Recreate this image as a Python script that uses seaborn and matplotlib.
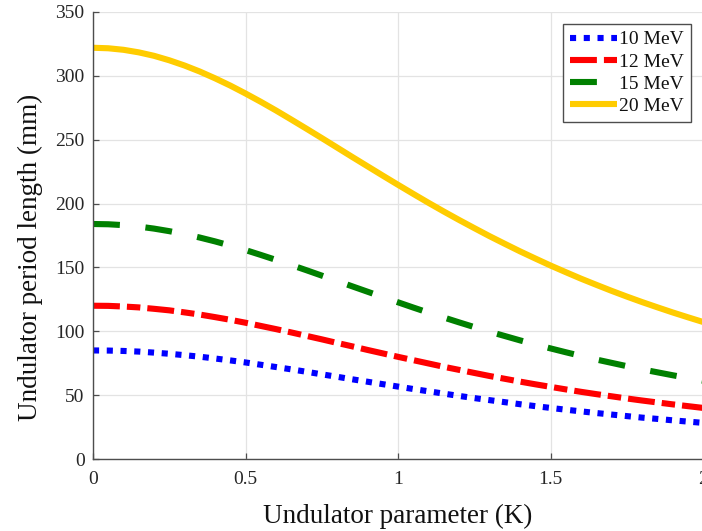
import numpy as np
import pandas as pd
import matplotlib
matplotlib.use("Agg")
import matplotlib.pyplot as plt
import seaborn as sns

# Undulator parameter K
k_values = [0.00, 0.05, 0.10, 0.15, 0.20, 0.25, 0.30, 0.35, 0.40, 0.45, 0.50,
            0.55, 0.60, 0.65, 0.70, 0.75, 0.80, 0.85, 0.90, 0.95, 1.00,
            1.05, 1.10, 1.15, 1.20, 1.25, 1.30, 1.35, 1.40, 1.45, 1.50,
            1.55, 1.60, 1.65, 1.70, 1.75, 1.80, 1.85, 1.90, 1.95, 2.00]

# Undulator period length (mm) for each beam energy
period_10mev = [85.0, 84.9, 84.6, 84.1, 83.3, 82.4, 81.3, 80.1, 78.7, 77.2, 75.6,
                73.8, 72.0, 70.2, 68.3, 66.3, 64.4, 62.4, 60.5, 58.6, 56.7,
                54.8, 53.0, 51.2, 49.4, 47.7, 46.1, 44.5, 42.9, 41.4, 40.0,
                38.6, 37.3, 36.0, 34.8, 33.6, 32.4, 31.4, 30.3, 29.3, 28.3]
period_12mev = [120.0, 119.9, 119.4, 118.7, 117.6, 116.4, 114.8, 113.1, 111.1, 109.0, 106.7,
                104.2, 101.7, 99.1, 96.4, 93.7, 90.9, 88.2, 85.4, 82.7, 80.0,
                77.4, 74.8, 72.2, 69.8, 67.4, 65.0, 62.8, 60.6, 58.5, 56.5,
                54.5, 52.6, 50.8, 49.1, 47.4, 45.8, 44.3, 42.8, 41.4, 40.0]
period_15mev = [184.0, 183.8, 183.1, 182.0, 180.4, 178.4, 176.1, 173.4, 170.4, 167.1, 163.6,
                159.8, 155.9, 151.9, 147.8, 143.6, 139.4, 135.2, 131.0, 126.8, 122.7,
                118.6, 114.6, 110.8, 107.0, 103.3, 99.7, 96.3, 92.9, 89.7, 86.6,
                83.6, 80.7, 77.9, 75.3, 72.7, 70.2, 67.9, 65.6, 63.4, 61.3]
period_20mev = [322.0, 321.6, 320.4, 318.4, 315.7, 312.2, 308.1, 303.4, 298.1, 292.4, 286.2,
                279.7, 272.9, 265.8, 258.6, 251.3, 243.9, 236.5, 229.2, 221.9, 214.7,
                207.6, 200.6, 193.8, 187.2, 180.8, 174.5, 168.5, 162.6, 157.0, 151.5,
                146.3, 141.2, 136.4, 131.7, 127.2, 122.9, 118.8, 114.8, 111.0, 107.3]

energy_labels = ["10 MeV", "12 MeV", "15 MeV", "20 MeV"]
x_tick_values = [0, 0.5, 1, 1.5, 2]
x_tick_labels = ["0", "0.5", "1", "1.5", "2"]
y_tick_values = [0, 50, 100, 150, 200, 250, 300, 350]

sns.set_theme(style="whitegrid")
plt.rcParams["font.family"] = ["Liberation Serif", "DejaVu Serif"]

fig = plt.figure(figsize=(7.02, 5.31), dpi=100)
ax = fig.add_axes([93 / 702, 1 - 459 / 531, 610 / 702, 447 / 531])
ax.set_facecolor("white")

series = [period_10mev, period_12mev, period_15mev, period_20mev]
colors = ["#0000ff", "#ff0000", "#008000", "#ffcc00"]
dash_styles = [(1.0, 1.25), (4.4, 1.15, 2.2, 1.15), (4.4, 4.2), None]
lw = 4.4

frames = []
for lab, vals in zip(energy_labels, series):
    frames.append(pd.DataFrame({"K": k_values, "period": vals, "energy": lab}))
data = pd.concat(frames, ignore_index=True)

handles = []
for lab, col, dsh in zip(energy_labels, colors, dash_styles):
    sub = data[data["energy"] == lab]
    sns.lineplot(data=sub, x="K", y="period", ax=ax, color=col, linewidth=lw,
                 label=lab, legend=False)
    line = ax.lines[-1]
    if dsh is not None:
        line.set_dashes(dsh)
    line.set_dash_capstyle("butt")
    line.set_solid_capstyle("butt")
    handles.append(line)

ax.set_xlim(0, 2)
ax.set_ylim(0, 350)
ax.set_xticks(x_tick_values)
ax.set_xticklabels(x_tick_labels)
ax.set_yticks(y_tick_values)

ax.grid(True, color="#e3e3e3", linewidth=0.9)
for side in ["top", "right"]:
    ax.spines[side].set_visible(False)
for side in ["left", "bottom"]:
    ax.spines[side].set_color("#4d4d4d")
    ax.spines[side].set_linewidth(1.0)

ax.tick_params(axis="both", which="both", direction="in", length=4, width=0.9,
               color="#4d4d4d", labelsize=14, labelcolor="#262626",
               left=True, bottom=True)
ax.tick_params(axis="x", pad=9)
ax.tick_params(axis="y", pad=6)

ax.set_xlabel("Undulator parameter (K)", fontsize=19.5, color="#111111")
ax.set_ylabel("Undulator period length (mm)", fontsize=19.5, color="#111111")
ax.xaxis.set_label_coords(0.5, -0.1)
ax.yaxis.set_label_coords(-0.082, 0.452)

leg = ax.legend(handles=handles, labels=energy_labels, loc="upper right",
                bbox_to_anchor=(691 / 702, 1 - 24 / 531),
                bbox_transform=fig.transFigure, fontsize=14, frameon=True,
                fancybox=False, framealpha=1.0, edgecolor="#4d4d4d",
                handlelength=2.45, handletextpad=0.1, labelspacing=0.24,
                borderpad=0.35, borderaxespad=0.0)
leg.get_frame().set_linewidth(1.0)
for t in leg.get_texts():
    t.set_color("#111111")

fig.savefig("out.png", dpi=100, facecolor="white")
